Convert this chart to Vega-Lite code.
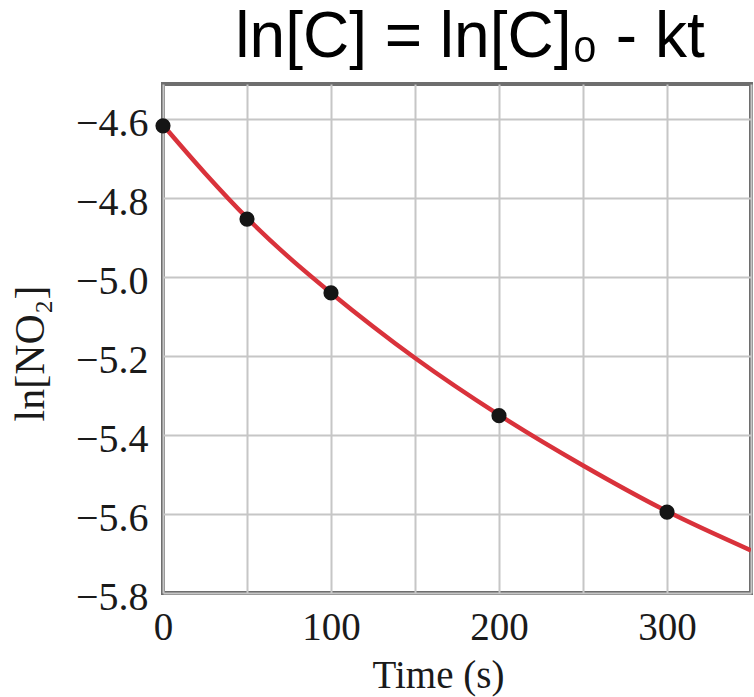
{
  "$schema": "https://vega.github.io/schema/vega-lite/v6.json",
  "autosize": "none",
  "padding": {"left": 163, "top": 84, "right": 3, "bottom": 104},
  "width": 588,
  "height": 509,
  "background": "white",
  "title": {
    "text": "ln[C] = ln[C]₀ - kt",
    "font": "Liberation Sans",
    "fontSize": 64,
    "fontWeight": "normal",
    "color": "#000000",
    "anchor": "middle",
    "baseline": "alphabetic",
    "offset": 20,
    "dx": 13,
    "dy": 57
  },
  "config": {
    "view": {"stroke": "#6e6e6e", "strokeWidth": 4},
    "axis": {
      "labelFont": "Liberation Serif",
      "titleFont": "Liberation Serif",
      "labelColor": "#1a1a1a",
      "titleColor": "#1a1a1a",
      "titleFontWeight": "normal",
      "domain": false,
      "ticks": false,
      "gridColor": "#c6c6c6",
      "gridWidth": 2,
      "gridOpacity": 1
    }
  },
  "datasets": {
    "curve": [
      {"t": 0, "lnc": -4.615},
      {"t": 25, "lnc": -4.737},
      {"t": 50, "lnc": -4.850},
      {"t": 75, "lnc": -4.950},
      {"t": 100, "lnc": -5.040},
      {"t": 125, "lnc": -5.125},
      {"t": 150, "lnc": -5.205},
      {"t": 200, "lnc": -5.349},
      {"t": 250, "lnc": -5.477},
      {"t": 300, "lnc": -5.593},
      {"t": 350, "lnc": -5.692}
    ],
    "points": [
      {"t": 0, "lnc": -4.617},
      {"t": 50, "lnc": -4.853},
      {"t": 100, "lnc": -5.040},
      {"t": 200, "lnc": -5.351},
      {"t": 300, "lnc": -5.595}
    ]
  },
  "layer": [
    {
      "data": {"name": "curve"},
      "mark": {"type": "line", "color": "#d9323b", "strokeWidth": 4.5, "interpolate": "monotone", "clip": true},
      "encoding": {
        "x": {
          "field": "t", "type": "quantitative",
          "scale": {"domain": [0, 350], "nice": false, "zero": false},
          "axis": {
            "values": [0, 50, 100, 150, 200, 250, 300, 350],
            "labelExpr": "datum.value % 100 === 0 ? datum.label : ''",
            "labelFontSize": 39,
            "labelPadding": 15,
            "labelFlush": false,
            "title": "Time (s)",
            "titleFontSize": 39,
            "titleBaseline": "alphabetic",
            "titleX": 275,
            "titleY": 94
          }
        },
        "y": {
          "field": "lnc", "type": "quantitative",
          "scale": {"domain": [-5.8, -4.511], "nice": false, "zero": false},
          "axis": {
            "values": [-5.8, -5.6, -5.4, -5.2, -5.0, -4.8, -4.6],
            "format": ".1f",
            "labelFontSize": 40,
            "labelPadding": 15,
            "labelOffset": 4,
            "labelFlush": false,
            "title": "ln[NO₂]",
            "titleFontSize": 42,
            "titleAngle": -90,
            "titleAlign": "center",
            "titleBaseline": "alphabetic",
            "titleX": -120,
            "titleY": 269
          }
        }
      }
    },
    {
      "data": {"name": "points"},
      "mark": {"type": "point", "filled": true, "color": "#151515", "opacity": 1, "size": 230, "clip": false},
      "encoding": {
        "x": {"field": "t", "type": "quantitative"},
        "y": {"field": "lnc", "type": "quantitative"}
      }
    }
  ]
}
